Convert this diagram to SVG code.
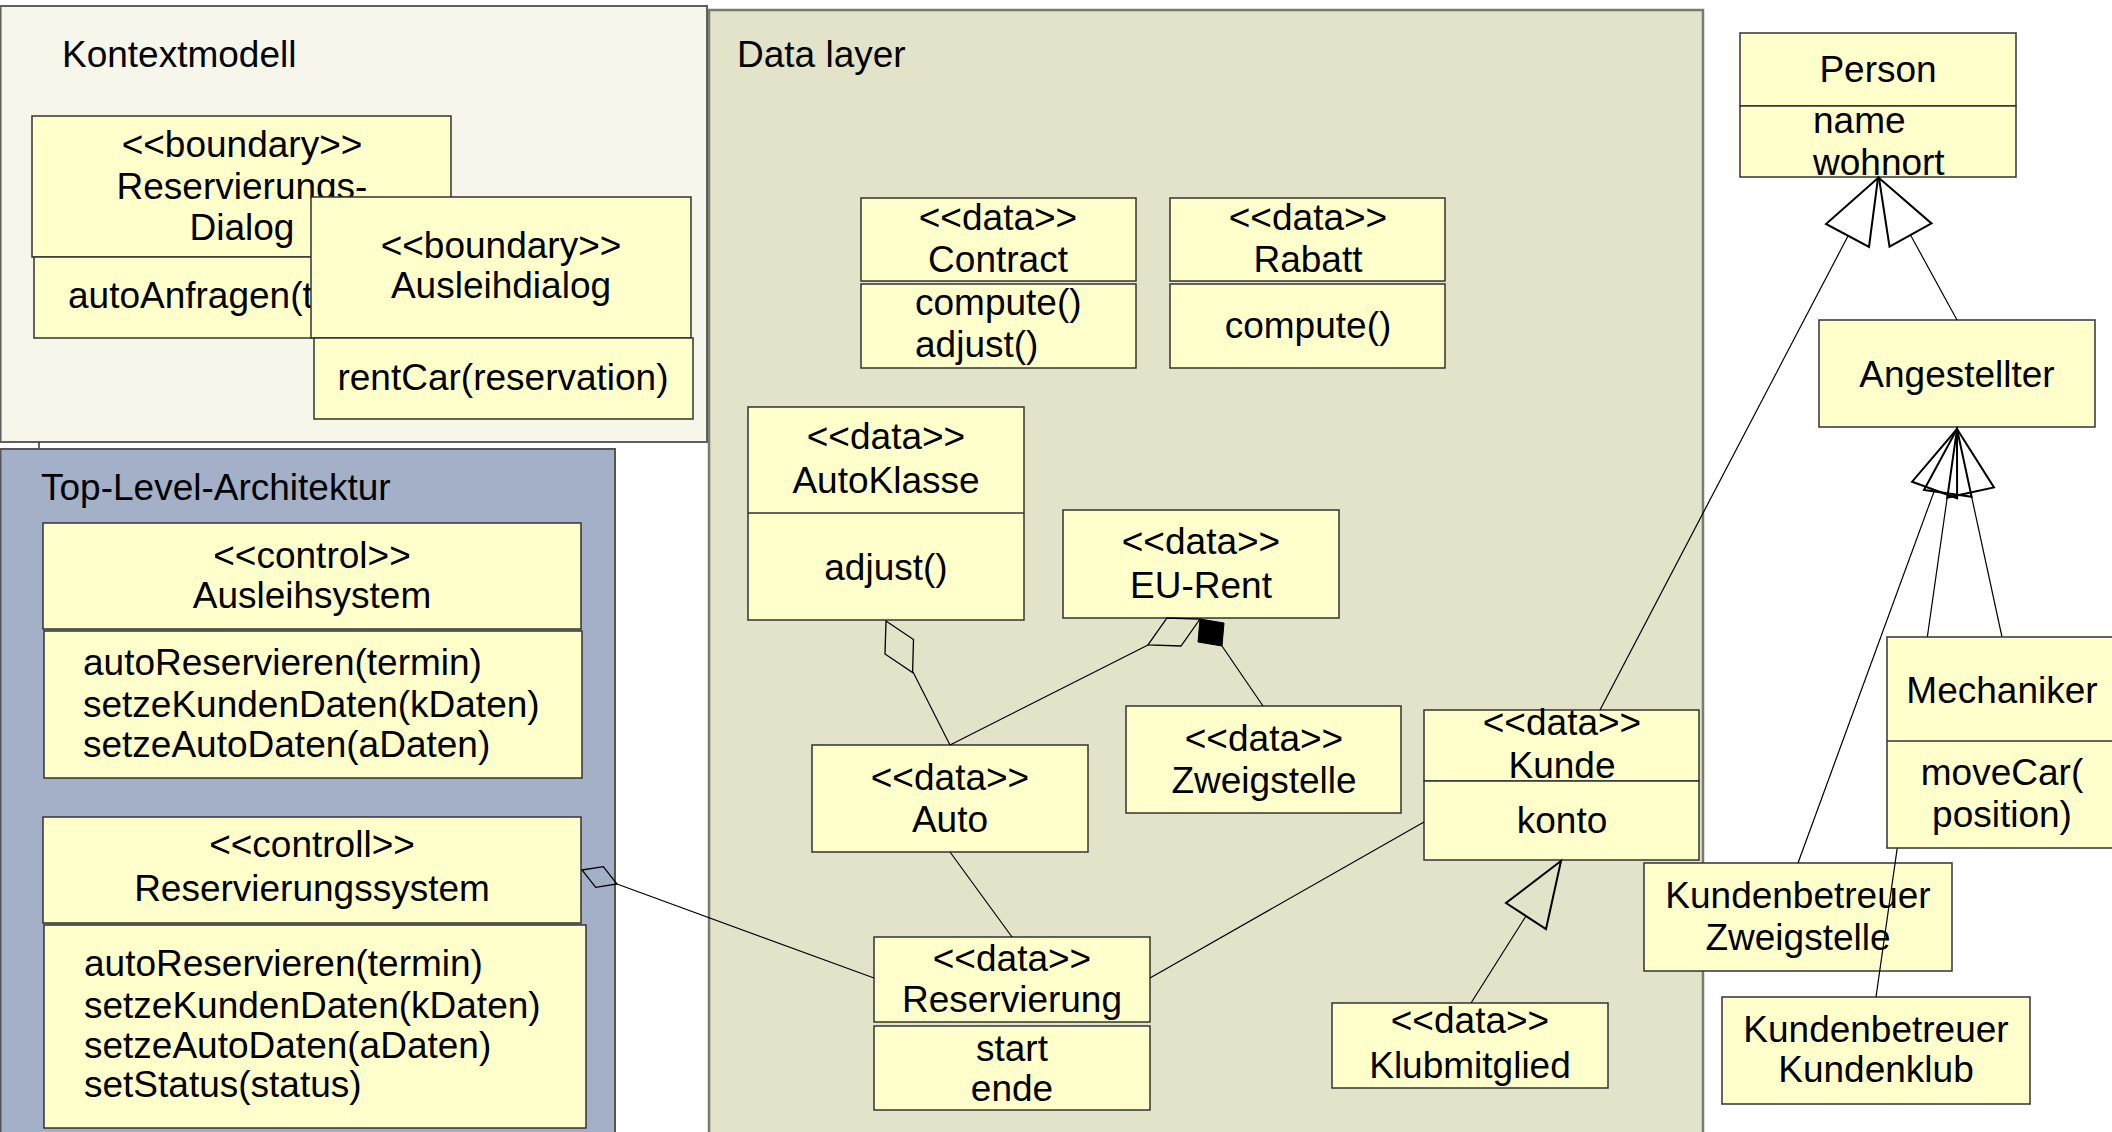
<svg xmlns="http://www.w3.org/2000/svg" width="2112" height="1132" viewBox="0 0 2112 1132">
  <style>
    .frame-k { fill:#f6f6eb; stroke:#5f5f5f; stroke-width:2; }
    .frame-d { fill:#e3e3c9; stroke:#7a7a6e; stroke-width:2.5; }
    .frame-t { fill:#a3b0c8; stroke:#555; stroke-width:2; }
    .box { fill:#ffffcc; stroke:#333; stroke-width:1.5; }
    .div { stroke:#333; stroke-width:1.5; }
    .t { font-family:"Liberation Sans", Arial, Helvetica, sans-serif; font-size:37px; fill:#000; }
    .c { text-anchor:middle; }
    .edge { stroke:#000; stroke-width:1.2; fill:none; }
    .head { stroke:#000; stroke-width:2; fill:none; stroke-linejoin:miter; }
    .headthin { stroke:#000; stroke-width:1.3; fill:none; }
    .solid { fill:#000; stroke:#000; stroke-width:1; }
  </style>

  <rect width="2112" height="1132" fill="#ffffff"/>

  <!-- package frames -->
  <g id="frame-datalayer">
    <rect class="frame-d" x="709" y="10" width="994" height="1135"/>
    <text class="t" x="737" y="67">Data layer</text>
  </g>
  <g id="frame-kontextmodell">
    <rect class="frame-k" x="0.5" y="6" width="706.5" height="436"/>
    <text class="t" x="62" y="67">Kontextmodell</text>
    <line x1="39" y1="442" x2="39" y2="448" stroke="#333" stroke-width="1.5"/>
  </g>
  <g id="frame-toplevel">
    <rect class="frame-t" x="0.5" y="449" width="614.5" height="700"/>
    <text class="t" x="41" y="500">Top-Level-Architektur</text>
  </g>

  <!-- Kontextmodell -->
  <g id="node-reservierungsdialog">
    <rect class="box" x="32" y="116" width="419" height="141"/>
    <rect class="box" x="34" y="257" width="417" height="81"/>
    <text class="t c" x="242" y="157">&lt;&lt;boundary&gt;&gt;</text>
    <text class="t c" x="242" y="199">Reservierungs-</text>
    <text class="t c" x="242" y="240">Dialog</text>
    <text class="t" x="68" y="308">autoAnfragen(t</text>
  </g>
  <g id="node-ausleihdialog">
    <rect class="box" x="311" y="197" width="380" height="141"/>
    <rect class="box" x="314" y="338" width="379" height="81"/>
    <text class="t c" x="501" y="258">&lt;&lt;boundary&gt;&gt;</text>
    <text class="t c" x="501" y="298">Ausleihdialog</text>
    <text class="t c" x="503" y="390">rentCar(reservation)</text>
  </g>

  <!-- Top-Level-Architektur -->
  <g id="node-ausleihsystem">
    <rect class="box" x="43" y="523" width="538" height="106"/>
    <rect class="box" x="44" y="631" width="538" height="147"/>
    <text class="t c" x="312" y="568">&lt;&lt;control&gt;&gt;</text>
    <text class="t c" x="312" y="608">Ausleihsystem</text>
    <text class="t" x="83" y="675">autoReservieren(termin)</text>
    <text class="t" x="83" y="717">setzeKundenDaten(kDaten)</text>
    <text class="t" x="83" y="757">setzeAutoDaten(aDaten)</text>
  </g>
  <g id="node-reservierungssystem">
    <rect class="box" x="43" y="817" width="538" height="106"/>
    <rect class="box" x="44" y="925" width="542" height="203"/>
    <text class="t c" x="312" y="857">&lt;&lt;controll&gt;&gt;</text>
    <text class="t c" x="312" y="901">Reservierungssystem</text>
    <text class="t" x="84" y="976">autoReservieren(termin)</text>
    <text class="t" x="84" y="1018">setzeKundenDaten(kDaten)</text>
    <text class="t" x="84" y="1058">setzeAutoDaten(aDaten)</text>
    <text class="t" x="84" y="1097">setStatus(status)</text>
  </g>

  <!-- Data layer -->
  <g id="node-contract">
    <rect class="box" x="861" y="198" width="275" height="83"/>
    <rect class="box" x="861" y="284" width="275" height="84"/>
    <text class="t c" x="998" y="230">&lt;&lt;data&gt;&gt;</text>
    <text class="t c" x="998" y="272">Contract</text>
    <text class="t" x="915" y="315">compute()</text>
    <text class="t" x="915" y="357">adjust()</text>
  </g>
  <g id="node-rabatt">
    <rect class="box" x="1170" y="198" width="275" height="83"/>
    <rect class="box" x="1170" y="284" width="275" height="84"/>
    <text class="t c" x="1308" y="230">&lt;&lt;data&gt;&gt;</text>
    <text class="t c" x="1308" y="272">Rabatt</text>
    <text class="t c" x="1308" y="338">compute()</text>
  </g>
  <g id="node-autoklasse">
    <rect class="box" x="748" y="407" width="276" height="213"/>
    <line class="div" x1="748" y1="513" x2="1024" y2="513"/>
    <text class="t c" x="886" y="449">&lt;&lt;data&gt;&gt;</text>
    <text class="t c" x="886" y="493">AutoKlasse</text>
    <text class="t c" x="886" y="580">adjust()</text>
  </g>
  <g id="node-eurent">
    <rect class="box" x="1063" y="510" width="276" height="108"/>
    <text class="t c" x="1201" y="554">&lt;&lt;data&gt;&gt;</text>
    <text class="t c" x="1201" y="598">EU-Rent</text>
  </g>
  <g id="node-auto">
    <rect class="box" x="812" y="745" width="276" height="107"/>
    <text class="t c" x="950" y="790">&lt;&lt;data&gt;&gt;</text>
    <text class="t c" x="950" y="832">Auto</text>
  </g>
  <g id="node-zweigstelle">
    <rect class="box" x="1126" y="706" width="275" height="107"/>
    <text class="t c" x="1264" y="751">&lt;&lt;data&gt;&gt;</text>
    <text class="t c" x="1264" y="793">Zweigstelle</text>
  </g>
  <g id="node-kunde">
    <rect class="box" x="1424" y="710" width="275" height="71"/>
    <rect class="box" x="1424" y="781" width="275" height="79"/>
    <text class="t c" x="1562" y="735">&lt;&lt;data&gt;&gt;</text>
    <text class="t c" x="1562" y="778">Kunde</text>
    <text class="t c" x="1562" y="833">konto</text>
  </g>
  <g id="node-reservierung">
    <rect class="box" x="874" y="937" width="276" height="85"/>
    <rect class="box" x="874" y="1026" width="276" height="84"/>
    <text class="t c" x="1012" y="971">&lt;&lt;data&gt;&gt;</text>
    <text class="t c" x="1012" y="1012">Reservierung</text>
    <text class="t c" x="1012" y="1061">start</text>
    <text class="t c" x="1012" y="1101">ende</text>
  </g>
  <g id="node-klubmitglied">
    <rect class="box" x="1332" y="1003" width="276" height="85"/>
    <text class="t c" x="1470" y="1033">&lt;&lt;data&gt;&gt;</text>
    <text class="t c" x="1470" y="1078">Klubmitglied</text>
  </g>

  <!-- Person hierarchy -->
  <g id="node-person">
    <rect class="box" x="1740" y="33" width="276" height="73"/>
    <rect class="box" x="1740" y="106" width="276" height="71"/>
    <text class="t c" x="1878" y="82">Person</text>
    <text class="t" x="1813" y="133">name</text>
    <text class="t" x="1813" y="175">wohnort</text>
  </g>
  <g id="node-angestellter">
    <rect class="box" x="1819" y="320" width="276" height="107"/>
    <text class="t c" x="1957" y="387">Angestellter</text>
  </g>
  <g id="node-kb-zweigstelle">
    <rect class="box" x="1644" y="863" width="308" height="108"/>
    <text class="t c" x="1798" y="908">Kundenbetreuer</text>
    <text class="t c" x="1798" y="950">Zweigstelle</text>
  </g>
  <g id="node-kb-kundenklub">
    <rect class="box" x="1722" y="997" width="308" height="107"/>
    <text class="t c" x="1876" y="1042">Kundenbetreuer</text>
    <text class="t c" x="1876" y="1082">Kundenklub</text>
  </g>

  <!-- connectors: associations, aggregations, compositions, generalizations -->
  <g id="connectors">
    <line class="edge" x1="913" y1="672" x2="950" y2="745"/>
    <line class="edge" x1="1148" y1="645" x2="950" y2="745"/>
    <line class="edge" x1="1222" y1="646" x2="1263" y2="706"/>
    <line class="edge" x1="950" y1="852" x2="1012" y2="937"/>
    <line class="edge" x1="874" y1="978" x2="617" y2="884"/>
    <line class="edge" x1="1150" y1="978" x2="1424" y2="822"/>
    <line class="edge" x1="1600" y1="710" x2="1848" y2="236"/>
    <line class="edge" x1="1957" y1="320" x2="1910.5" y2="235"/>
    <line class="edge" x1="1471" y1="1003" x2="1526" y2="916"/>
    <line class="edge" x1="1798" y1="863" x2="1934.6" y2="490"/>
    <line class="edge" x1="1876" y1="997" x2="1947.8" y2="493.3"/>
    <line class="edge" x1="2002" y1="637" x2="1970.7" y2="492.5"/>

    <!-- aggregation diamonds -->
    <polygon class="headthin" points="886,621 913.5,639.5 912.6,672.6 885,654"/>
    <polygon class="headthin" points="1200,619 1181,646 1148,645 1167,618"/>
    <polygon class="headthin" points="582,870 603.3,866.7 617,884 595.7,887.3"/>
    <!-- composition diamond -->
    <polygon class="solid" points="1200,619 1224,623 1222,646 1198,642"/>

    <!-- generalization triangles -->
    <polygon class="head" points="1878,178 1869,247 1826,224"/>
    <polygon class="head" points="1879,178 1931.5,223.4 1889.5,246.6"/>
    <polygon class="head" points="1957,429 1957.1,498.3 1912.1,481.7"/>
    <polygon class="head" points="1957,429 1971.6,496.7 1924,489.9"/>
    <polygon class="head" points="1957,429 1994,487.4 1947.3,497.6"/>
    <polygon class="head" points="1561,861 1546,929 1506,903"/>
  </g>

  <!-- drawn last: it sits on top of the Kundenklub connector -->
  <g id="node-mechaniker">
    <rect class="box" x="1887" y="637" width="240" height="211"/>
    <line class="div" x1="1887" y1="741" x2="2127" y2="741"/>
    <text class="t c" x="2002" y="703">Mechaniker</text>
    <text class="t c" x="2002" y="785">moveCar(</text>
    <text class="t c" x="2002" y="827">position)</text>
  </g>
</svg>
